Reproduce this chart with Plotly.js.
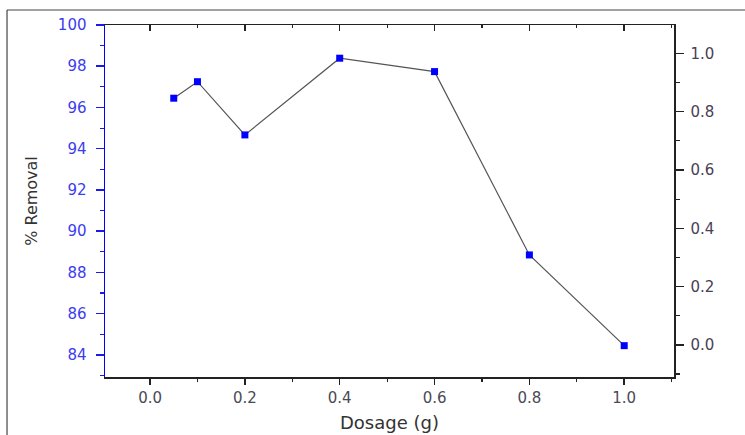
<!DOCTYPE html>
<html>
<head>
<meta charset="utf-8">
<script src="https://cdn.plot.ly/plotly-3.0.1.min.js"></script>
<style>html,body{margin:0;padding:0;background:#fff;}#chart{width:745px;height:435px;}</style>
</head>
<body>
<div id="chart"></div>
<script>
var dosage = [0.05, 0.1, 0.2, 0.4, 0.6, 0.8, 1.0];
var removal = [96.45, 97.25, 94.67, 98.39, 97.74, 88.85, 84.45];
var xTickVals = [0, 0.2, 0.4, 0.6, 0.8, 1.0];
var xTickText = ['0.0', '0.2', '0.4', '0.6', '0.8', '1.0'];
var y2TickVals = [0, 0.2, 0.4, 0.6, 0.8, 1.0];
var y2TickText = ['0.0', '0.2', '0.4', '0.6', '0.8', '1.0'];

var traces = [
  {
    x: dosage, y: removal, type: 'scatter', mode: 'lines+markers',
    line: {color: '#555555', width: 1.2},
    marker: {symbol: 'square', size: 7, color: '#0000ff'},
    xaxis: 'x', yaxis: 'y', showlegend: false, hoverinfo: 'x+y'
  },
  { x: [], y: [], xaxis: 'x2', yaxis: 'y', showlegend: false },
  { x: [], y: [], xaxis: 'x', yaxis: 'y2', showlegend: false }
];

var FF = 'DejaVu Sans, Verdana, sans-serif';

var layout = {
  width: 745, height: 435,
  margin: {l: 105, r: 71, t: 25, b: 58},
  paper_bgcolor: '#ffffff', plot_bgcolor: '#ffffff',
  font: {family: FF, size: 15, color: '#333333'},
  showlegend: false,
  xaxis: {
    range: [-0.095, 1.105], tickvals: xTickVals, ticktext: xTickText,
    ticks: 'outside', ticklen: 6, tickwidth: 1.5, tickcolor: '#222',
    minor: {dtick: 0.1, tick0: 0, ticks: 'outside', ticklen: 3, tickwidth: 1.2, tickcolor: '#222', showgrid: false},
    showline: true, linecolor: '#222', linewidth: 1.5,
    showgrid: false, zeroline: false,
    tickfont: {family: FF, size: 15, color: '#4a4a55'},
    title: {text: 'Dosage (g)', font: {family: FF, size: 18, color: '#333'}, standoff: 11}
  },
  xaxis2: {
    overlaying: 'x', anchor: 'y', side: 'top', matches: 'x',
    range: [-0.095, 1.105], tickvals: xTickVals, showticklabels: false,
    ticks: 'inside', ticklen: 6, tickwidth: 1.5, tickcolor: '#222',
    minor: {dtick: 0.1, tick0: 0, ticks: 'inside', ticklen: 3, tickwidth: 1.2, tickcolor: '#222', showgrid: false},
    showline: true, linecolor: '#222', linewidth: 1.5,
    showgrid: false, zeroline: false
  },
  yaxis: {
    range: [82.93, 100], dtick: 2, tick0: 84,
    ticks: 'outside', ticklen: 8, tickwidth: 1.5, tickcolor: '#1a1aee',
    minor: {dtick: 1, tick0: 84, ticks: 'outside', ticklen: 4, tickwidth: 1.2, tickcolor: '#1a1aee', showgrid: false},
    showline: true, linecolor: '#0000ff', linewidth: 1.5,
    showgrid: false, zeroline: false, ticklabelstandoff: 6,
    tickfont: {family: FF, size: 15, color: '#3c3cf0'},
    title: {text: '% Removal', font: {family: FF, size: 16, color: '#333'}, standoff: 16}
  },
  yaxis2: {
    overlaying: 'y', side: 'right', anchor: 'x',
    range: [-0.11, 1.097], tickvals: y2TickVals, ticktext: y2TickText,
    ticks: 'outside', ticklen: 8, tickwidth: 1.5, tickcolor: '#222',
    minor: {dtick: 0.1, tick0: 0, ticks: 'outside', ticklen: 4, tickwidth: 1.2, tickcolor: '#222', showgrid: false},
    showline: true, linecolor: '#222', linewidth: 1.5,
    showgrid: false, zeroline: false, ticklabelstandoff: 4,
    tickfont: {family: FF, size: 15, color: '#4a4055'}
  },
  shapes: [
    {type: 'line', xref: 'paper', yref: 'paper', x0: -0.1722, x1: 1.13, y0: 1.0426, y1: 1.0426, line: {color: '#444', width: 1.2}},
    {type: 'line', xref: 'paper', yref: 'paper', x0: -0.1722, x1: -0.1722, y0: 1.0426, y1: -0.2, line: {color: '#444', width: 1.2}}
  ]
};

Plotly.newPlot('chart', traces, layout, {staticPlot: true, displayModeBar: false});
</script>
</body>
</html>
